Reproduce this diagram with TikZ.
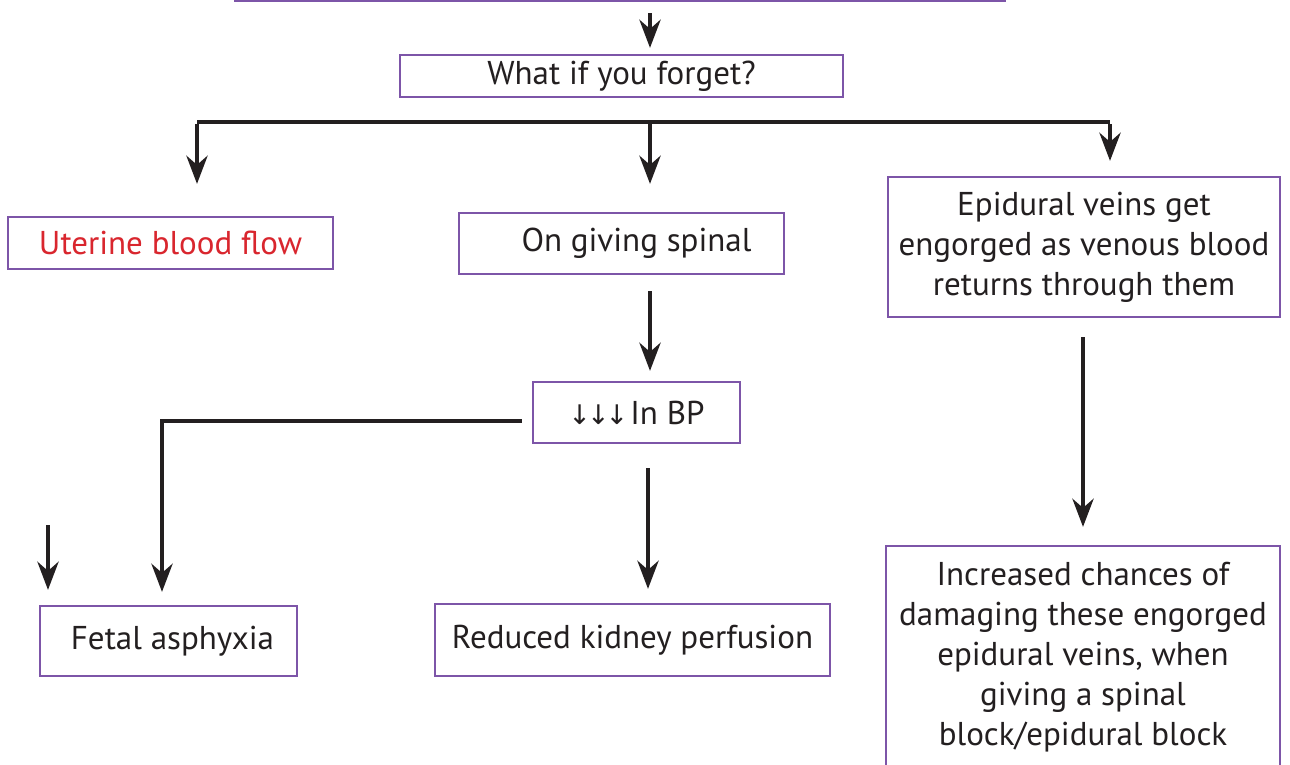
\documentclass[tikz,border=0pt]{standalone}
\usepackage{fontspec}
\setmainfont{PT Sans}
\newfontfamily\symfont{DejaVu Sans}
\usetikzlibrary{arrows.meta}
\definecolor{boxpurple}{HTML}{7D55A8}
\definecolor{inkblack}{HTML}{231F20}
\definecolor{txtred}{HTML}{D9262E}
\tikzset{
  box/.style={draw=boxpurple, line width=2.2pt, fill=white, inner sep=0pt, align=center,
    font=\fontsize{33}{40}\selectfont, text=inkblack},
  arr/.style={draw=inkblack, line width=4.8pt,
    -{Stealth[length=28pt, width=21pt, inset=9pt]}},
  lin/.style={draw=inkblack, line width=4.8pt},
}
\begin{document}
\begin{tikzpicture}[x=1pt, y=-1pt]
\useasboundingbox (0,0) rectangle (1290,764);
\clip (0,0) rectangle (1290,764);
% nodes
\node[box, minimum width=770pt, minimum height=60pt] (topbox) at (620,-29) {};
\node[box, minimum width=443pt, minimum height=42pt] (what) at (621.5,76) {What if you forget?};
\node[box, minimum width=325pt, minimum height=52pt, text=txtred] (uterine) at (170.5,243) {Uterine blood flow};
\node[box, minimum width=325pt, minimum height=61pt] (spinal) at (621.5,243.5) {\hspace*{30pt}On giving spinal};
\node[box, minimum width=392pt, minimum height=140pt] (epi) at (1084,247) {Epidural veins get\\engorged as venous blood\\returns through them};
\node[box, minimum width=207pt, minimum height=61pt] (bp) at (636.5,412.5) {{\symfont\fontsize{27}{30}\selectfont ↓\kern-4pt↓\kern-4pt↓}\kern2pt In BP};
\node[box, minimum width=257pt, minimum height=70pt] (fetal) at (168.5,641) {\hspace*{8pt}Fetal asphyxia};
\node[box, minimum width=395pt, minimum height=72pt] (kidney) at (632.5,640) {Reduced kidney perfusion};
\node[box, minimum width=394pt, minimum height=222pt] (incr) at (1083,657) {Increased chances of\\damaging these engorged\\epidural veins, when\\giving a spinal\\block/epidural block};
% connectors
\coordinate (bl) at (197,122);
\coordinate (bc) at (650,122);
\coordinate (br) at (1110,122);
\coordinate (loose) at (48,525);
\draw[arr] ([xshift=30pt,yshift=-11pt]topbox.south) -- ([xshift=28.5pt,yshift=6pt]what.north);
\draw[lin] (bl) -- (br);
\draw[arr] ([yshift=-2.4pt]bl) -- (bl |- uterine.north) [shorten >=32pt];
\draw[arr] (bc) -- (bc |- spinal.north) [shorten >=28pt];
\draw[arr] ([yshift=-2.4pt]br) -- (br |- epi.north) [shorten >=15pt];
\draw[arr] ([xshift=28.5pt,yshift=-16pt]spinal.south) -- ([xshift=13.5pt,yshift=10pt]bp.north);
\draw[arr] ([xshift=-10pt,yshift=-8.5pt]bp.west) -| ([xshift=-6.5pt,yshift=13pt]fetal.north);
\draw[arr] (loose) -- (loose |- fetal.north) [shorten >=15pt];
\draw[arr] ([xshift=11.5pt,yshift=-24pt]bp.south) -- ([xshift=15.5pt,yshift=14pt]kidney.north);
\draw[arr] ([xshift=-1pt,yshift=-19pt]epi.south) -- ([yshift=18pt]incr.north);
\end{tikzpicture}
\end{document}
